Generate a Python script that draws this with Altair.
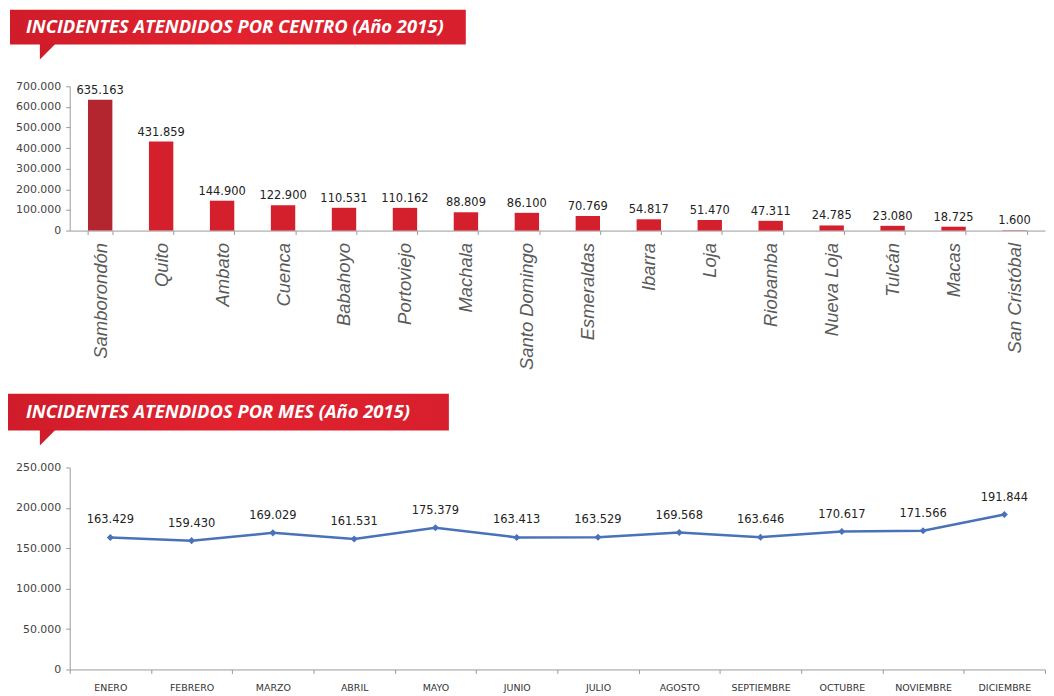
import altair as alt
import pandas as pd

centros = ["Samborondón", "Quito", "Ambato", "Cuenca", "Babahoyo", "Portoviejo", "Machala",
           "Santo Domingo", "Esmeraldas", "Ibarra", "Loja", "Riobamba", "Nueva Loja",
           "Tulcán", "Macas", "San Cristóbal"]
incidentes_centro = [635163, 431859, 144900, 122900, 110531, 110162, 88809, 86100, 70769,
                     54817, 51470, 47311, 24785, 23080, 18725, 1600]

meses = ["ENERO", "FEBRERO", "MARZO", "ABRIL", "MAYO", "JUNIO", "JULIO", "AGOSTO",
         "SEPTIEMBRE", "OCTUBRE", "NOVIEMBRE", "DICIEMBRE"]
incidentes_mes = [163429, 159430, 169029, 161531, 175379, 163413, 163529, 169568, 163646,
                  170617, 171566, 191844]

titulo_centro = "INCIDENTES ATENDIDOS POR CENTRO (Año 2015)"
titulo_mes = "INCIDENTES ATENDIDOS POR MES (Año 2015)"

RED = "#d41f2c"
DARK = "#b3252f"
BLUE = "#4a72b9"
W = 980

banner_grad = alt.LinearGradient(
    gradient="linear", x1=0, y1=0, x2=1, y2=0,
    stops=[alt.GradientStop(offset=0, color="#d01c2a"),
           alt.GradientStop(offset=0.5, color="#e2222f"),
           alt.GradientStop(offset=1, color="#d81f2d")])


def banner(title, x0, x1, y0, y1, tail_x, tail_y, text_x):
    d = pd.DataFrame({"t": [title]})
    base = alt.Chart(d)
    rect = base.mark_rect(color=banner_grad).encode(
        x=alt.value(x0), x2=alt.value(x1), y=alt.value(y0), y2=alt.value(y1))
    tail = base.mark_point(shape="M-1,-1 L1,-1 L-1,1 Z", filled=True, size=256,
                           color="#d01c2a", opacity=1).encode(
        x=alt.value(tail_x), y=alt.value(tail_y))
    txt = base.mark_text(align="left", baseline="middle", font="Open Sans",
                         fontStyle="italic", fontWeight="bold", fontSize=18.5,
                         color="white").encode(
        x=alt.value(text_x), y=alt.value((y0 + y1) / 2), text="t:N")
    return [rect, tail, txt]


axis_common = dict(domainColor="#9a9a9a", tickColor="#9a9a9a", grid=False, title=None,
                   labelOverlap=False)

# ---------- Top chart ----------
df_c = pd.DataFrame({"centro": centros, "inc": incidentes_centro})
xc = alt.X("centro:N", sort=centros,
           scale=alt.Scale(paddingInner=0.6, paddingOuter=0.3),
           axis=alt.Axis(labelAngle=-90, labelFont="Liberation Sans", labelFontStyle="italic",
                         labelFontSize=18.5, labelColor="#5a5a5a", tickBand="extent",
                         tickSize=4, labelPadding=8, **axis_common))
yc = alt.Y("inc:Q", scale=alt.Scale(domain=[0, 700000]),
           axis=alt.Axis(values=list(range(0, 700001, 100000)), format=",d",
                         labelFont="DejaVu Sans", labelFontSize=11, labelColor="#444444",
                         tickSize=4, labelPadding=5, **axis_common))
bars = alt.Chart(df_c).mark_bar().encode(
    x=xc, y=yc,
    color=alt.condition(alt.datum.centro == "Samborondón", alt.value(DARK), alt.value(RED)))
bar_lbl = alt.Chart(df_c).mark_text(baseline="bottom", dy=-4, font="DejaVu Sans",
                                     fontSize=11.5, color="#222222").encode(
    x=xc, y=yc, text=alt.Text("inc:Q", format=",d"))
top = alt.layer(*banner(titulo_centro, -60, 398, -77, -42, -22, -35, -44),
                bars, bar_lbl).properties(width=W, height=145)

# ---------- Bottom chart ----------
df_m = pd.DataFrame({"mes": meses, "inc": incidentes_mes})
xm = alt.X("mes:N", sort=meses, bandPosition=0.5,
           scale=alt.Scale(type="band", paddingInner=0, paddingOuter=0),
           axis=alt.Axis(labelAngle=0, labelFont="DejaVu Sans", labelFontSize=9.5,
                         labelColor="#333333", tickBand="extent", tickSize=4,
                         labelPadding=9, **axis_common))
ym = alt.Y("inc:Q", scale=alt.Scale(domain=[0, 250000]),
           axis=alt.Axis(values=list(range(0, 250001, 50000)), format=",d",
                         labelFont="DejaVu Sans", labelFontSize=11, labelColor="#444444",
                         tickSize=4, labelPadding=5, **axis_common))
line = alt.Chart(df_m).mark_line(color=BLUE, strokeWidth=2.5).encode(x=xm, y=ym)
pts = alt.Chart(df_m).mark_point(shape="diamond", filled=True, size=50, color=BLUE,
                                 opacity=1).encode(x=xm, y=ym)
line_lbl = alt.Chart(df_m).mark_text(baseline="middle", dy=-17, font="DejaVu Sans",
                                     fontSize=11.5, color="#222222").encode(
    x=xm, y=ym, text=alt.Text("inc:Q", format=",d"))
bottom = alt.layer(*banner(titulo_mes, -62, 381, -74, -37, -22, -30, -44),
                   line, pts, line_lbl).properties(width=W, height=203)

chart = alt.vconcat(top, bottom, spacing=24).properties(
    padding=0, background="white"
).configure(
    locale={"number": {"decimal": ",", "thousands": ".", "grouping": [3],
                       "currency": ["$", ""]}}
).configure_view(stroke=None)

chart.save("out.html", embed_options={"renderer": "svg", "actions": False})
